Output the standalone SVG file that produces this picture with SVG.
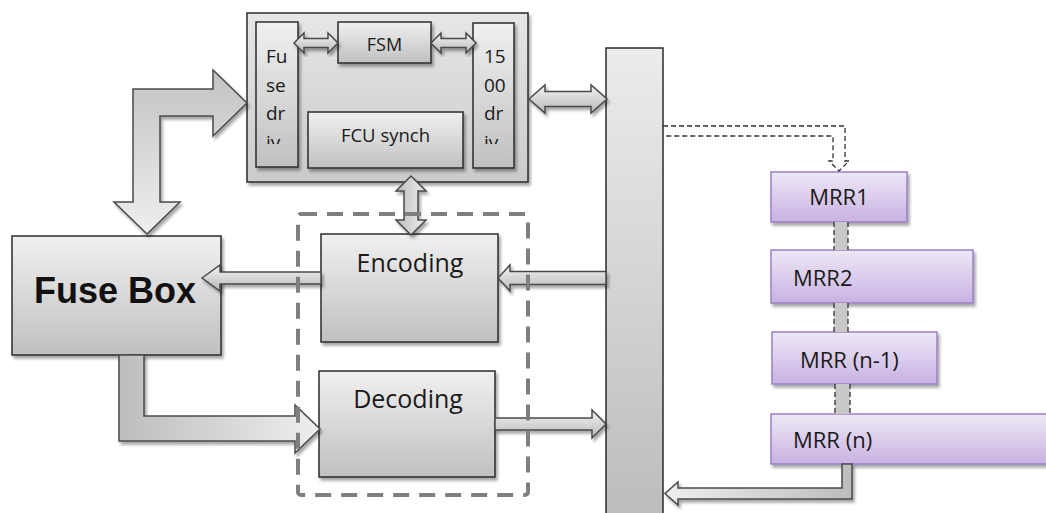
<svg xmlns="http://www.w3.org/2000/svg" width="1046" height="513" viewBox="0 0 1046 513">
<defs>
  <linearGradient id="gBox" x1="0" y1="0" x2="0" y2="1">
    <stop offset="0" stop-color="#f0f0f0"/>
    <stop offset="1" stop-color="#c0c0c0"/>
  </linearGradient>
  <linearGradient id="gOuter" x1="0" y1="0" x2="0" y2="1">
    <stop offset="0" stop-color="#e6e6e6"/>
    <stop offset="1" stop-color="#cbcbcb"/>
  </linearGradient>
  <linearGradient id="gBar" x1="0" y1="0" x2="0" y2="1">
    <stop offset="0" stop-color="#ececec"/>
    <stop offset="1" stop-color="#bcbcbc"/>
  </linearGradient>
  <linearGradient id="gMrr" x1="0" y1="0" x2="0" y2="1">
    <stop offset="0" stop-color="#eee8f6"/>
    <stop offset="1" stop-color="#c8b2e2"/>
  </linearGradient>
  <linearGradient id="gArrD" x1="0" y1="0" x2="0" y2="1">
    <stop offset="0" stop-color="#f4f4f4"/>
    <stop offset="1" stop-color="#b8b8b8"/>
  </linearGradient>
  <linearGradient id="gArrH" x1="0" y1="0" x2="1" y2="0">
    <stop offset="0" stop-color="#bdbdbd"/>
    <stop offset="1" stop-color="#eeeeee"/>
  </linearGradient>
  <linearGradient id="gArrHr" x1="1" y1="0" x2="0" y2="0">
    <stop offset="0" stop-color="#bdbdbd"/>
    <stop offset="1" stop-color="#eeeeee"/>
  </linearGradient>
  <linearGradient id="gArrV" x1="0" y1="0" x2="0" y2="1">
    <stop offset="0" stop-color="#c2c2c2"/>
    <stop offset="1" stop-color="#efefef"/>
  </linearGradient>
  <filter id="sh" x="-10%" y="-10%" width="130%" height="130%">
    <feDropShadow dx="2" dy="3" stdDeviation="1.5" flood-color="#000" flood-opacity="0.35"/>
  </filter>
  <clipPath id="clipL"><rect x="256" y="22" width="44" height="122"/></clipPath>
  <clipPath id="clipR"><rect x="473" y="22" width="42" height="122"/></clipPath>
  <style>
    .box{fill:url(#gBox);stroke:#2b2b2b;stroke-width:1.5;filter:url(#sh)}
    .mrr{fill:url(#gMrr);stroke:#9a80c6;stroke-width:1.5;filter:url(#sh)}
    .arr{stroke:#4a4a4a;stroke-width:1.5;stroke-linejoin:miter;filter:url(#sh)}
    .t{font-family:"Open Sans","Liberation Sans",sans-serif;fill:#1a1a1a}
    .dash{fill:none;stroke:#333;stroke-width:1.3;stroke-dasharray:5 3}
  </style>
</defs>

<g id="top-block">
  <rect x="247" y="13" width="281" height="169" fill="url(#gOuter)" stroke="#2b2b2b" stroke-width="1.5" filter="url(#sh)"/>
</g>
<g id="fuse-driv">
  <rect class="box" x="256" y="22" width="42" height="145"/>
  <g clip-path="url(#clipL)" class="t" font-size="19">
    <text x="266" y="63">Fu</text>
    <text x="266" y="92">se</text>
    <text x="266" y="120">dr</text>
    <text x="266" y="149">iv</text>
  </g>
</g>
<g id="fsm">
  <rect class="box" x="338" y="22" width="93" height="41"/>
  <text class="t" x="384.5" y="51" font-size="18" text-anchor="middle">FSM</text>
</g>
<g id="drv1500">
  <rect class="box" x="473" y="23" width="41" height="145"/>
  <g clip-path="url(#clipR)" class="t" font-size="19">
    <text x="484" y="63">15</text>
    <text x="484" y="92">00</text>
    <text x="484" y="120">dr</text>
    <text x="484" y="149">iv</text>
  </g>
</g>
<g id="fcu-synch">
  <rect class="box" x="308" y="112" width="155" height="56"/>
  <text class="t" x="385.5" y="142" font-size="18.5" text-anchor="middle">FCU synch</text>
</g>

<g id="fuse-box">
  <rect class="box" x="12" y="236" width="209" height="119"/>
  <text x="115" y="303" font-family="Liberation Sans,Arial,sans-serif" font-weight="bold" font-size="36" text-anchor="middle" fill="#111">Fuse Box</text>
</g>
<g id="encoding">
  <rect class="box" x="321" y="234" width="177" height="108"/>
  <text class="t" x="410" y="272" font-size="25" text-anchor="middle">Encoding</text>
</g>
<g id="decoding">
  <rect class="box" x="319" y="371" width="176" height="106"/>
  <text class="t" x="408" y="408" font-size="25" text-anchor="middle">Decoding</text>
</g>
<g id="bus">
  <rect x="606" y="48" width="57" height="470" fill="url(#gBar)" stroke="#2b2b2b" stroke-width="1.5"/>
</g>

<g id="mrr1">
  <rect class="mrr" x="771" y="172" width="136" height="50"/>
  <text class="t" x="839" y="205" font-size="22" text-anchor="middle">MRR1</text>
</g>
<g id="mrr2">
  <rect class="mrr" x="771" y="250" width="202" height="53"/>
  <text class="t" x="793" y="286" font-size="22">MRR2</text>
</g>
<g id="mrr-n1">
  <rect class="mrr" x="772" y="332" width="165" height="52"/>
  <text class="t" x="800" y="368" font-size="22">MRR (n-1)</text>
</g>
<g id="mrr-n">
  <rect class="mrr" x="771" y="414" width="285" height="50"/>
  <text class="t" x="793" y="448" font-size="22">MRR (n)</text>
</g>

<g id="connectors">
  <path class="arr" fill="url(#gArrV)" d="M133,202 V89 H213 V70 L247,103 L213,136 V116 H160 V202 H180 L147,234 L114,202 Z"/>
  <path class="arr" fill="url(#gArrD)" d="M294,43 L304,33 V38.5 H328 V33 L338,43 L328,53 V47.5 H304 V53 Z"/>
  <path class="arr" fill="url(#gArrD)" d="M431,43 L441,33 V38.5 H466 V33 L476,43 L466,53 V47.5 H441 V53 Z"/>
  <path class="arr" fill="url(#gArrD)" d="M529,99 L545,85 V91.5 H591 V85 L607,99 L591,113 V106.5 H545 V113 Z"/>
  <path class="arr" fill="url(#gArrH)" d="M411,176 L426,191 H418 V220 H426 L411,235 L396,220 H404 V191 H396 Z"/>
  <path class="arr" fill="url(#gArrD)" d="M202,278 L220,265 V272 H321 V284 H220 V291 Z"/>
  <path class="arr" fill="url(#gArrD)" d="M498,278 L510,265 V271.5 H606 V284.5 H510 V291 Z"/>
  <path class="arr" fill="url(#gArrD)" d="M495,418 H592 V410 L606,424 L592,438 V430 H495 Z"/>
  <path class="arr" fill="url(#gArrH)" d="M119,355 V441 H295 V453 L320,429 L295,405 V416 H144 V355 Z"/>
  <path class="arr" fill="url(#gArrHr)" d="M842,464 H852 V499 H678 V505 L665,493.5 L678,482 V488 H842 Z"/>
  <path class="dash" d="M663,126 H845 V161 H849 L839,171 L829,161 H833 V136 H663"/>
  <rect x="834" y="222" width="14" height="28" fill="#c8c8c8"/>
  <path class="dash" d="M834,222 V250 M848,222 V250"/>
  <rect x="834" y="303" width="14" height="29" fill="#c8c8c8"/>
  <path class="dash" d="M834,303 V332 M848,303 V332"/>
  <rect x="835" y="384" width="15" height="30" fill="#c8c8c8"/>
  <path class="dash" d="M835,384 V414 M850,384 V414"/>
</g>

<g id="codec-group">
  <rect x="298" y="214" width="230" height="281" rx="3" fill="none" stroke="#7f7f7f" stroke-width="4" stroke-dasharray="16 10"/>
</g>
</svg>
